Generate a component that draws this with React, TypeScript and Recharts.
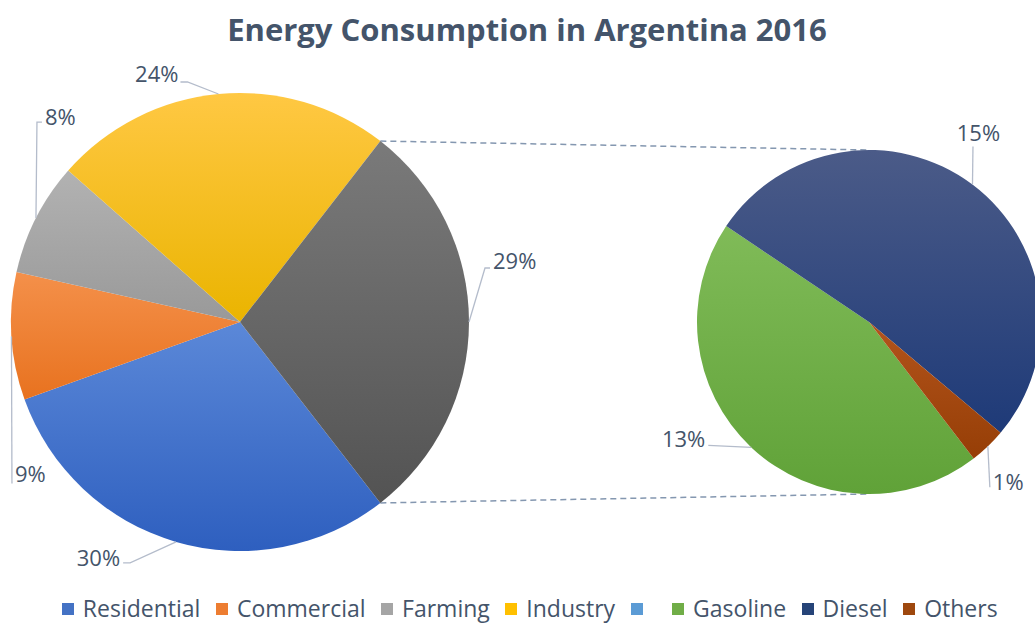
import { PieChart, Pie, Cell, Legend } from 'recharts';

const mainNames = ['Residential', 'Commercial', 'Farming', 'Industry', ''];
const mainValues = [30, 9, 8, 24, 29];
const subNames = ['Gasoline', 'Diesel', 'Others'];
const subValues = [13, 15, 1];

const legendNames = [...mainNames, ...subNames];
const legendColors = ['#4472c4', '#ed7d31', '#a5a5a5', '#ffc000', '#5b9bd5', '#70ad47', '#264478', '#9e480e'];

// top / bottom colour of each slice gradient
const mainFills = [
  ['#5b88d8', '#2e5fbf'],
  ['#f4904a', '#e8721f'],
  ['#b2b2b2', '#999999'],
  ['#ffc843', '#eab400'],
  ['#7a7a7a', '#535353'],
];
const subFills = [
  ['#80bb58', '#60a238'],
  ['#4b5b88', '#1e3a78'],
  ['#b3541c', '#963e06'],
];

const FONT = "'Open Sans', sans-serif";
const TEXT = '#44546a';
const LEADER = '#b4bccb';

const MAIN = { cx: 240, cy: 322, r: 229 };
const SUB = { cx: 869, cy: 322, r: 172 };
const mainTotal = mainValues.reduce((a, b) => a + b, 0);
const HALF = (mainValues[4] / mainTotal) * 180;
const SUB_START = -52.5;

// leader points and label offset, relative to the slice's mid point on the rim
type Leader = { pts: number[][]; text: number[]; anchor: 'start' | 'middle' | 'end' };
const mainLeaders: Leader[] = [
  { pts: [[-46, 21], [-53, 21]], text: [-56, 24], anchor: 'end' },
  { pts: [[0.5, 147]], text: [3.5, 146], anchor: 'start' },
  { pts: [[1, -96], [6, -96]], text: [9, -93], anchor: 'start' },
  { pts: [[-31, -12], [-38, -12]], text: [-40, -12], anchor: 'end' },
  { pts: [[16, -54], [21, -54]], text: [24, -53], anchor: 'start' },
];
const subLeaders: Leader[] = [
  { pts: [[-43, -2]], text: [-46, 0], anchor: 'end' },
  { pts: [[0.5, -38]], text: [6, -44], anchor: 'middle' },
  { pts: [[2, 41]], text: [5, 44], anchor: 'start' },
];

const mainData = mainNames.map((name, i) => ({ name, value: mainValues[i] }));
const subData = subNames.map((name, i) => ({ name, value: subValues[i] }));

const makeLabel = (leaders: Leader[]) => (props: any) => {
  const { cx, cy, midAngle, outerRadius, index, value } = props;
  const rad = (-midAngle * Math.PI) / 180;
  const ax = cx + outerRadius * Math.cos(rad);
  const ay = cy + outerRadius * Math.sin(rad);
  const l = leaders[index];
  const pts = [[0, 0], ...l.pts].map(([dx, dy]) => `${ax + dx},${ay + dy}`).join(' ');
  return (
    <g key={`lbl-${index}`}>
      <polyline points={pts} fill="none" stroke={LEADER} strokeWidth={1.3} />
      <text x={ax + l.text[0]} y={ay + l.text[1]} textAnchor={l.anchor} fontFamily={FONT} fontSize={22} fill={TEXT}>
        {`${value}%`}
      </text>
    </g>
  );
};

const rimPoint = (c: { cx: number; cy: number; r: number }, deg: number) => [
  c.cx + c.r * Math.cos((-deg * Math.PI) / 180),
  c.cy + c.r * Math.sin((-deg * Math.PI) / 180),
];

const renderLegend = () => (
  <div
    style={{
      display: 'flex',
      justifyContent: 'center',
      alignItems: 'center',
      fontFamily: FONT,
      fontSize: 23,
      lineHeight: '23px',
      color: TEXT,
      paddingLeft: 40,
      whiteSpace: 'nowrap',
    }}
  >
    {legendNames.map((n, i) => (
      <span key={i} style={{ display: 'flex', alignItems: 'center', marginRight: 15.5 }}>
        <span style={{ width: 12, height: 12, background: legendColors[i], marginRight: n ? 9 : 14 }} />
        {n}
      </span>
    ))}
  </div>
);

export default function App() {
  const [t1, t2] = [rimPoint(MAIN, HALF), rimPoint(SUB, 90)];
  const [b1, b2] = [rimPoint(MAIN, -HALF), rimPoint(SUB, -90)];
  return (
    <div style={{ position: 'absolute', left: 0, top: 0, width: 1035, height: 623, background: '#fff' }}>
      <PieChart width={1035} height={623} margin={{ top: 0, right: 0, bottom: 0, left: 0 }}>
        <defs>
          {mainFills.map(([a, b], i) => (
            <linearGradient key={`m${i}`} id={`gm${i}`} x1="0" y1="0" x2="0" y2="1">
              <stop offset="0%" stopColor={a} />
              <stop offset="100%" stopColor={b} />
            </linearGradient>
          ))}
          {subFills.map(([a, b], i) => (
            <linearGradient key={`s${i}`} id={`gs${i}`} x1="0" y1="0" x2="0" y2="1">
              <stop offset="0%" stopColor={a} />
              <stop offset="100%" stopColor={b} />
            </linearGradient>
          ))}
        </defs>
        <text x={527} y={41} textAnchor="middle" fontFamily={FONT} fontWeight={700} fontSize={31} fill={TEXT}>
          Energy Consumption in Argentina 2016
        </text>
        <g stroke="#8497b0" strokeWidth={1.5} strokeDasharray="6 4">
          <line x1={t1[0]} y1={t1[1]} x2={t2[0]} y2={t2[1]} />
          <line x1={b1[0]} y1={b1[1]} x2={b2[0]} y2={b2[1]} />
        </g>
        <Pie
          data={mainData}
          dataKey="value"
          nameKey="name"
          cx={MAIN.cx}
          cy={MAIN.cy}
          outerRadius={MAIN.r}
          startAngle={-HALF}
          endAngle={-HALF - 360}
          stroke="none"
          label={makeLabel(mainLeaders)}
          labelLine={false}
          isAnimationActive={false}
        >
          {mainData.map((_, i) => (
            <Cell key={i} fill={`url(#gm${i})`} />
          ))}
        </Pie>
        <Pie
          data={subData}
          dataKey="value"
          nameKey="name"
          cx={SUB.cx}
          cy={SUB.cy}
          outerRadius={SUB.r}
          startAngle={SUB_START}
          endAngle={SUB_START - 360}
          stroke="none"
          label={makeLabel(subLeaders)}
          labelLine={false}
          isAnimationActive={false}
        >
          {subData.map((_, i) => (
            <Cell key={i} fill={`url(#gs${i})`} />
          ))}
        </Pie>
        <Legend content={renderLegend} verticalAlign="bottom" wrapperStyle={{ left: 0, bottom: 3, width: 1035 }} />
      </PieChart>
    </div>
  );
}
